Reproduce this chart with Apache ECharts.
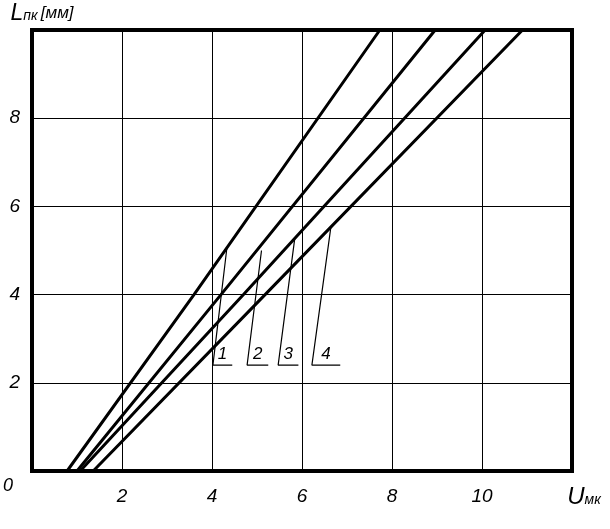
<!DOCTYPE html>
<html>
<head>
<meta charset="utf-8">
<script src="https://cdn.jsdelivr.net/npm/echarts@6/dist/echarts.min.js"></script>
<style>
  html, body { margin: 0; padding: 0; background: #fff; }
  #chart { width: 610px; height: 529px; }
</style>
</head>
<body>
<div id="chart"></div>
<script>
const curveNames = ['1', '2', '3', '4']
const uAtL0 = [0.78, 1.0, 1.07, 1.36]
const uAtL4 = [3.6, 4.2, 4.7, 5.18]
const uAtL10 = [7.73, 8.96, 10.07, 10.9]
const lLevels = [0, 4, 10]

// callout leaders: point on curve, foot of leader, end of underline
const calloutTop = [[4.33, 5.05], [5.1, 5.0], [5.84, 5.28], [6.64, 5.52]]
const calloutFootU = [4.02, 4.78, 5.47, 6.22]
const calloutEndU = [4.45, 5.25, 5.92, 6.85]
const calloutL = 2.4

const xTicks = [2, 4, 6, 8, 10]
const yTicks = [2, 4, 6, 8]

const font = 'Liberation Sans'
const ink = '#000'

const chart = echarts.init(document.getElementById('chart'))

const series = []
curveNames.forEach((name, i) => {
    const u = [uAtL0[i], uAtL4[i], uAtL10[i]]
    series.push({
        name: name,
        type: 'line',
        data: lLevels.map((l, k) => [u[k], l]),
        symbol: 'none',
        lineStyle: { color: ink, width: 3 },
        z: 5
    })
    series.push({
        type: 'line',
        data: [calloutTop[i], [calloutFootU[i], calloutL], [calloutEndU[i], calloutL]],
        symbol: 'none',
        lineStyle: { color: ink, width: 1.2 },
        z: 4
    })
})
series.push({
    type: 'scatter',
    symbolSize: 0,
    itemStyle: { color: ink, opacity: 1 },
    data: curveNames.map((name, i) => ({
        value: [(calloutFootU[i] + calloutEndU[i]) / 2, calloutL],
        name: name
    })),
    label: {
        show: true,
        position: 'top',
        distance: 2,
        formatter: p => p.name,
        fontFamily: font,
        fontStyle: 'italic',
        fontSize: 17,
        color: ink,
        opacity: 1
    }
})

chart.setOption({
    animation: false,
    backgroundColor: '#fff',
    grid: {
        left: 32,
        right: 38,
        top: 30,
        bottom: 58,
        show: true,
        borderColor: ink,
        borderWidth: 4
    },
    xAxis: {
        type: 'value',
        min: 0,
        max: 12,
        interval: 2,
        name: '{u|U}{s|мк}',
        nameLocation: 'end',
        nameGap: 12,
        nameTextStyle: {
            align: 'center',
            verticalAlign: 'top',
            padding: [14, 0, 0, 0],
            rich: {
                u: { fontFamily: font, fontStyle: 'italic', fontSize: 24, color: ink },
                s: { fontFamily: font, fontStyle: 'italic', fontSize: 14, color: ink, padding: [6, 0, 0, 0] }
            }
        },
        axisLine: { show: false },
        axisTick: { show: false },
        axisLabel: {
            margin: 16,
            fontFamily: font,
            fontStyle: 'italic',
            fontSize: 19,
            color: ink,
            formatter: v => (xTicks.includes(v) ? String(v) : '')
        },
        splitLine: { show: true, lineStyle: { color: ink, width: 1 } }
    },
    yAxis: {
        type: 'value',
        min: 0,
        max: 10,
        interval: 2,
        name: '{u|L}{s|пк} {b|[мм]}',
        nameLocation: 'end',
        nameGap: 5,
        nameTextStyle: {
            align: 'center',
            padding: [0, 0, 0, 20],
            rich: {
                u: { fontFamily: font, fontStyle: 'italic', fontSize: 23, color: ink },
                s: { fontFamily: font, fontStyle: 'italic', fontSize: 14, color: ink, padding: [6, 0, 0, 0] },
                b: { fontFamily: font, fontStyle: 'italic', fontSize: 17, color: ink }
            }
        },
        axisLine: { show: false },
        axisTick: { show: false },
        axisLabel: {
            margin: 12,
            fontFamily: font,
            fontStyle: 'italic',
            fontSize: 19,
            color: ink,
            formatter: v => (yTicks.includes(v) ? String(v) : '')
        },
        splitLine: { show: true, lineStyle: { color: ink, width: 1 } }
    },
    graphic: [{
        type: 'text',
        left: 3,
        top: 477,
        style: { text: '0', font: 'italic 18px "Liberation Sans"', fill: ink }
    }],
    series: series
})
</script>
</body>
</html>
